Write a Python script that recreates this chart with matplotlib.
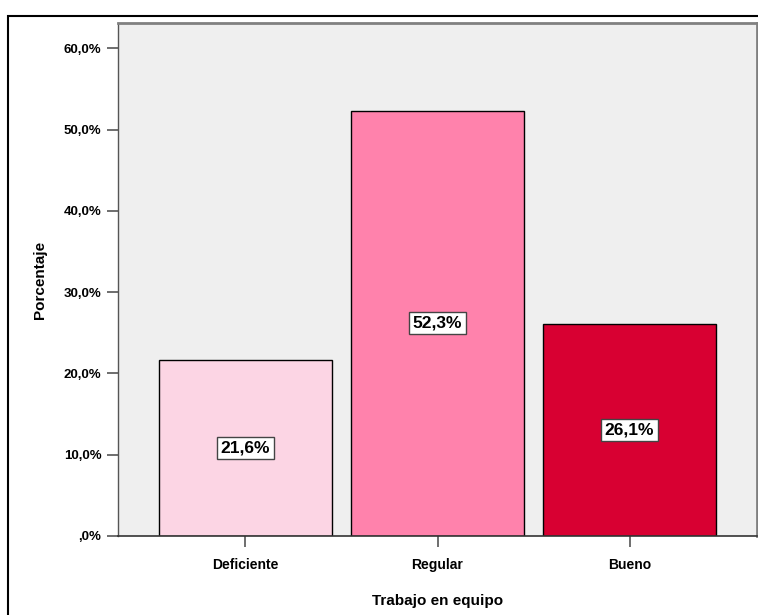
import matplotlib
matplotlib.use("Agg")
import matplotlib.pyplot as plt
from matplotlib.patches import Rectangle

categorias = ["Deficiente", "Regular", "Bueno"]
porcentajes = [21.6, 52.3, 26.1]
etiquetas = ["21,6%", "52,3%", "26,1%"]
colores = ["#FCD5E4", "#FF82AC", "#D80032"]
ticks_y = [0, 10, 20, 30, 40, 50, 60]
ticks_y_txt = [",0%", "10,0%", "20,0%", "30,0%", "40,0%", "50,0%", "60,0%"]

plt.rcParams["font.family"] = ["Liberation Sans", "DejaVu Sans"]

fig = plt.figure(figsize=(7.58, 6.15), dpi=100)
# marco exterior
fig.patches.append(Rectangle((8 / 758, -0.01), 1.0, 1 - 16 / 615 + 0.01,
                             transform=fig.transFigure, fill=False,
                             edgecolor="black", linewidth=1.5))

ax = fig.add_axes([118 / 758, 79 / 615, 639 / 758, 513 / 615])
ax.set_facecolor("#EFEFEF")

x = range(len(categorias))
ax.bar(x, porcentajes, width=0.896, color=colores, edgecolor="black", linewidth=1)

for i, v in enumerate(porcentajes):
    ax.text(i, v / 2, etiquetas[i], ha="center", va="center", fontsize=12.5,
            fontweight="bold",
            bbox=dict(boxstyle="square,pad=0.2", facecolor="white",
                      edgecolor="#444444", linewidth=1))

ax.set_xlim(-0.664, 2.664)
ax.set_ylim(0, 63.1)
ax.set_xticks(list(x))
ax.set_xticklabels(categorias, fontsize=10, fontweight="bold")
ax.set_yticks(ticks_y)
ax.set_yticklabels(ticks_y_txt, fontsize=9.5, fontweight="bold")
ax.tick_params(axis="both", length=8, width=1.2, color="#555555", pad=4)
ax.tick_params(axis="x", pad=8)

for lado in ["top", "right"]:
    ax.spines[lado].set_color("#808080")
    ax.spines[lado].set_linewidth(2)
ax.spines["left"].set_color("#555555")
ax.spines["bottom"].set_color("#333333")
ax.spines["left"].set_linewidth(1)
ax.spines["bottom"].set_linewidth(1.2)

ax.set_ylabel("Porcentaje", fontsize=11, fontweight="bold", labelpad=12)
ax.set_xlabel("Trabajo en equipo", fontsize=11, fontweight="bold", labelpad=16)

fig.savefig("out.png", dpi=100)
